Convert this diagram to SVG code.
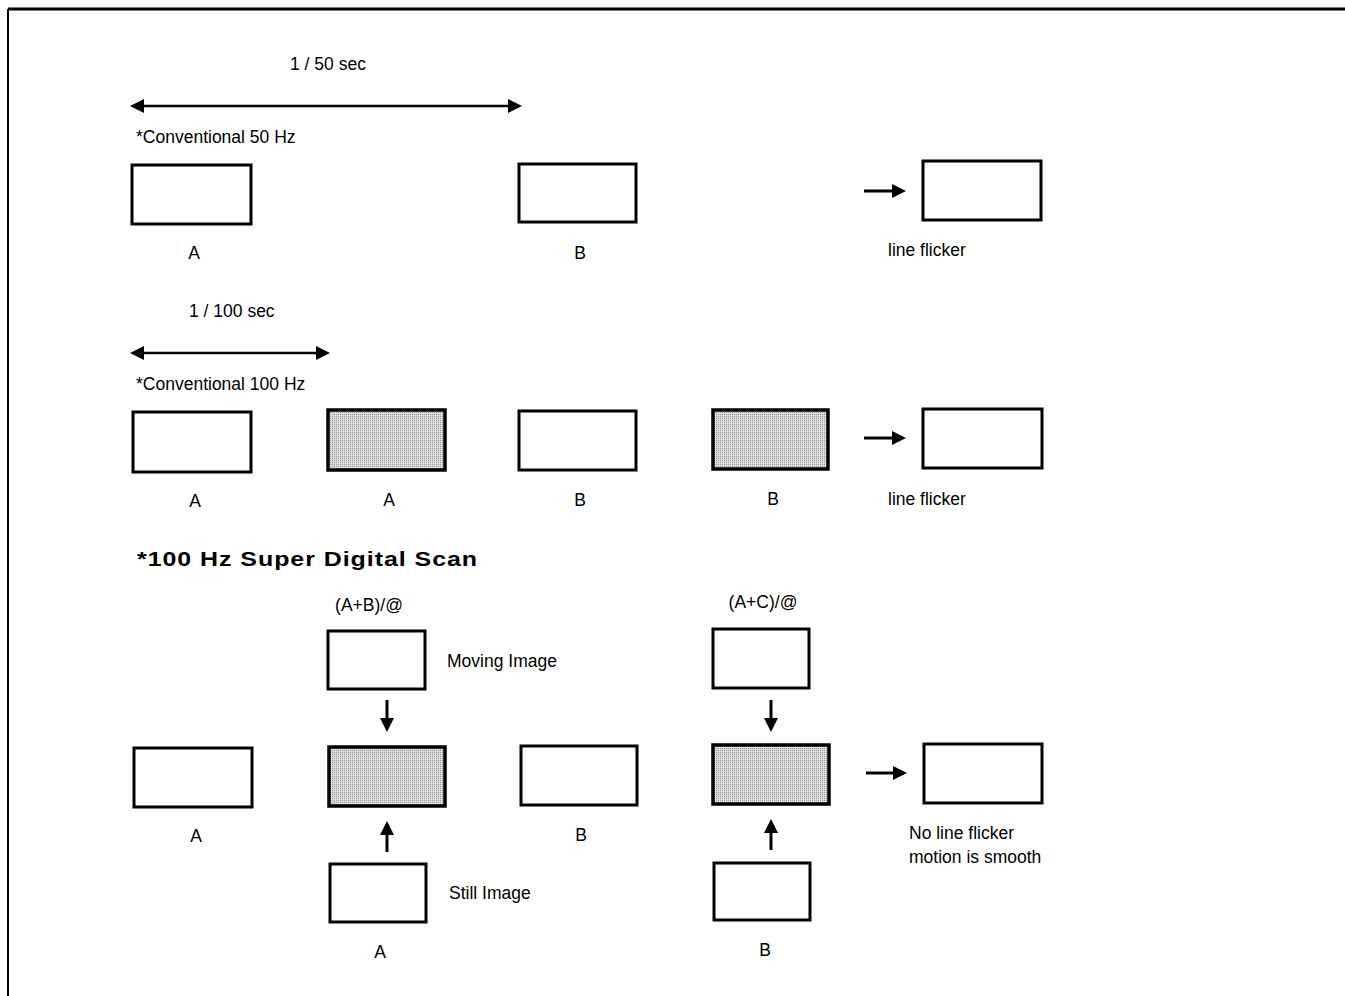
<svg xmlns="http://www.w3.org/2000/svg" width="1345" height="996" viewBox="0 0 1345 996">
<defs>
<style>
.t{font-family:"Liberation Sans",Arial,sans-serif;font-size:17.5px;fill:#000}
.c{text-anchor:middle}
.b{fill:#fff;stroke:#000;stroke-width:3}
.s{fill:url(#dots);stroke:#000;stroke-width:3.5}
.ln{stroke:#000;stroke-width:3;fill:none}
.ln2{stroke:#000;stroke-width:2.5;fill:none}
</style>
<pattern id="dots" width="2" height="2" patternUnits="userSpaceOnUse">
<rect width="2" height="2" fill="#dcdcdc"/>
<rect width="1" height="1" fill="#999"/>
</pattern>
<marker id="ah" markerUnits="userSpaceOnUse" markerWidth="14" markerHeight="14" refX="0" refY="6.5" orient="auto-start-reverse" viewBox="0 0 13 13">
<path d="M0,0 L13,6.5 L0,13 Z" fill="#000"/>
</marker>
</defs>
<rect width="1345" height="996" fill="#fff"/>
<g id="frame">
<line x1="8" y1="9" x2="1345" y2="9" stroke="#000" stroke-width="3"/>
<line x1="8" y1="9" x2="8" y2="996" stroke="#000" stroke-width="2"/>
</g>

<g id="labels">
<text class="t" x="290" y="70">1 / 50 sec</text>
<text class="t" x="136" y="143">*Conventional 50 Hz</text>
<text class="t" x="189" y="317">1 / 100 sec</text>
<text class="t" x="136" y="390">*Conventional 100 Hz</text>
<text x="137" y="566" textLength="341" lengthAdjust="spacingAndGlyphs" style="font-family:'Liberation Sans',Arial,sans-serif;font-weight:bold;font-size:21px;letter-spacing:0.8px">*100 Hz Super Digital Scan</text>
</g>

<g id="row1">
<g id="r1-a"><rect class="b" x="132" y="165" width="119" height="59"/><text class="t c" x="194" y="259">A</text></g>
<g id="r1-b"><rect class="b" x="519" y="164" width="117" height="58"/><text class="t c" x="580" y="259">B</text></g>
<g id="r1-out"><rect class="b" x="923" y="161" width="118" height="59"/><text class="t" x="888" y="256">line flicker</text></g>
</g>

<g id="row2">
<g id="r2-a1"><rect class="b" x="133" y="412" width="118" height="60"/><text class="t c" x="195" y="507">A</text></g>
<g id="r2-a2"><rect class="s" x="328" y="410" width="117" height="60"/><text class="t c" x="389" y="506">A</text></g>
<g id="r2-b1"><rect class="b" x="519" y="411" width="117" height="59"/><text class="t c" x="580" y="506">B</text></g>
<g id="r2-b2"><rect class="s" x="713" y="410" width="115" height="59"/><text class="t c" x="773" y="505">B</text></g>
<g id="r2-out"><rect class="b" x="923" y="409" width="119" height="59"/><text class="t" x="888" y="505">line flicker</text></g>
</g>

<g id="row3">
<g id="r3-ab"><rect class="b" x="328" y="631" width="97" height="58"/><text class="t c" x="369" y="611">(A+B)/@</text><text class="t" x="447" y="667">Moving Image</text></g>
<g id="r3-ac"><rect class="b" x="713" y="629" width="96" height="59"/><text class="t c" x="763" y="608">(A+C)/@</text></g>
<g id="r3-a"><rect class="b" x="134" y="748" width="118" height="59"/><text class="t c" x="196" y="842">A</text></g>
<g id="r3-s1"><rect class="s" x="329" y="747" width="116" height="59"/></g>
<g id="r3-b"><rect class="b" x="521" y="746" width="116" height="59"/><text class="t c" x="581" y="841">B</text></g>
<g id="r3-s2"><rect class="s" x="713" y="745" width="116" height="59"/></g>
<g id="r3-out"><rect class="b" x="924" y="744" width="118" height="59"/><text class="t" x="909" y="839">No line flicker</text><text class="t" x="909" y="863">motion is smooth</text></g>
<g id="r3-stillA"><rect class="b" x="330" y="864" width="96" height="58"/><text class="t" x="449" y="899">Still Image</text><text class="t c" x="380" y="958">A</text></g>
<g id="r3-stillB"><rect class="b" x="714" y="863" width="96" height="57"/><text class="t c" x="765" y="956">B</text></g>
</g>

<g id="connectors">
<line class="ln2" x1="144" y1="106" x2="508" y2="106" marker-start="url(#ah)" marker-end="url(#ah)"/>
<line class="ln2" x1="144" y1="353" x2="316" y2="353" marker-start="url(#ah)" marker-end="url(#ah)"/>
<line class="ln" x1="864" y1="191" x2="892" y2="191" marker-end="url(#ah)"/>
<line class="ln" x1="864" y1="438" x2="892" y2="438" marker-end="url(#ah)"/>
<line class="ln" x1="866" y1="773" x2="893" y2="773" marker-end="url(#ah)"/>
<line class="ln" x1="387" y1="700" x2="387" y2="718" marker-end="url(#ah)"/>
<line class="ln" x1="771" y1="700" x2="771" y2="718" marker-end="url(#ah)"/>
<line class="ln" x1="387" y1="852" x2="387" y2="835" marker-end="url(#ah)"/>
<line class="ln" x1="771" y1="850" x2="771" y2="833" marker-end="url(#ah)"/>
</g>
</svg>
